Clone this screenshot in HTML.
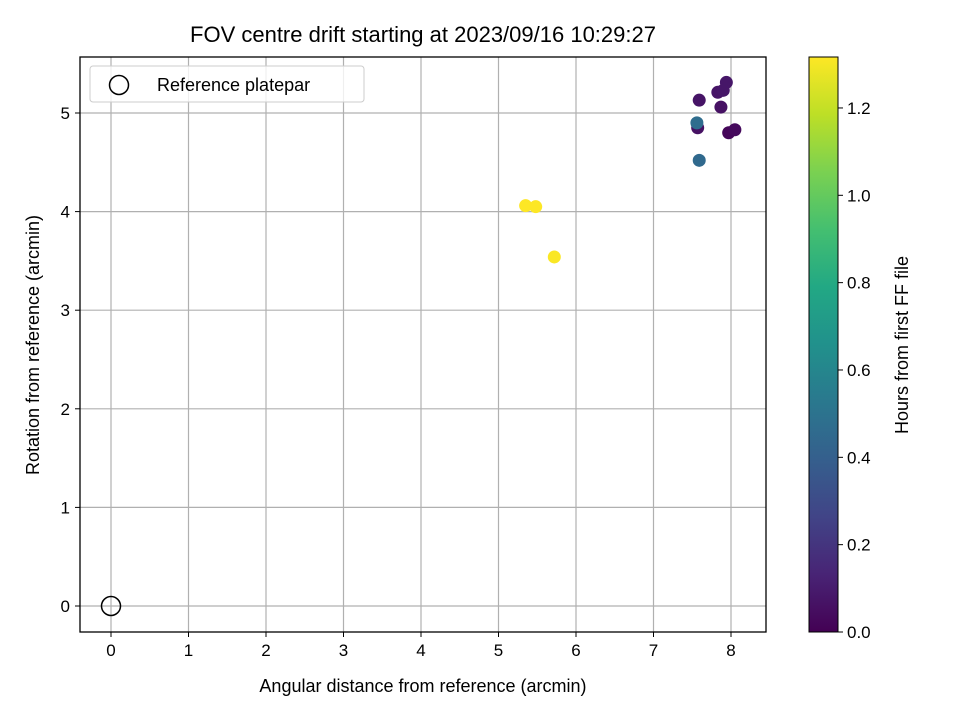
<!DOCTYPE html>
<html><head><meta charset="utf-8"><style>
body{margin:0;background:#fff}
svg text{font-family:"Liberation Sans","DejaVu Sans",sans-serif;fill:#000}
</style></head><body>
<svg id="chart" width="960" height="720" xmlns="http://www.w3.org/2000/svg">
<defs>
<linearGradient id="vir" x1="0" y1="1" x2="0" y2="0">
<stop offset="0" stop-color="#440154"/><stop offset="0.1" stop-color="#482475"/><stop offset="0.2" stop-color="#414487"/><stop offset="0.3" stop-color="#355f8d"/><stop offset="0.4" stop-color="#2a788e"/><stop offset="0.5" stop-color="#21918c"/><stop offset="0.6" stop-color="#22a884"/><stop offset="0.7" stop-color="#44bf70"/><stop offset="0.8" stop-color="#7ad151"/><stop offset="0.9" stop-color="#bddf26"/><stop offset="1" stop-color="#fde725"/>
</linearGradient>
</defs>
<text x="423" y="42" font-size="22" text-anchor="middle">FOV centre drift starting at 2023/09/16 10:29:27</text>
<g id="grid"></g>
<g id="ticks"></g>
<g id="points"></g>
<rect x="80" y="57" width="686" height="575" fill="none" stroke="#000" stroke-width="1.3"/>
<text x="423" y="692" font-size="18" text-anchor="middle">Angular distance from reference (arcmin)</text>
<text transform="translate(39,345) rotate(-90)" font-size="18" text-anchor="middle">Rotation from reference (arcmin)</text>
<g>
<rect x="90" y="66" width="274" height="36" rx="3" fill="#fff" fill-opacity="0.8" stroke="#ccc"/>
<circle cx="119" cy="85" r="9.5" fill="none" stroke="#000" stroke-width="1.5"/>
<text x="157" y="91" font-size="18">Reference platepar</text>
</g>
<rect x="809" y="57" width="29" height="575" fill="url(#vir)" stroke="#000" stroke-width="1"/>
<g id="cbticks"></g>
<text transform="translate(908,345) rotate(-90)" font-size="18" text-anchor="middle">Hours from first FF file</text>
</svg>
<script>
const xTicks=[0,1,2,3,4,5,6,7,8];
const yTicks=[0,1,2,3,4,5];
const cbTicks=[0.0,0.2,0.4,0.6,0.8,1.0,1.2];
const ptX=[7.94,7.83,7.90,7.59,7.87,7.57,7.97,8.05,7.56,7.59,5.35,5.48,5.72];
const ptY=[5.31,5.21,5.23,5.13,5.06,4.85,4.80,4.83,4.90,4.52,4.06,4.05,3.54];
const ptH=[0.08,0.07,0.08,0.07,0.06,0.06,0.02,0.03,0.47,0.45,1.32,1.32,1.31];
const refX=[0],refY=[0];
const X=v=>111+v*77.5, Y=v=>606-v*98.6, CB=v=>632-v*436.7;
const NS="http://www.w3.org/2000/svg";
function mk(t,a,p){const e=document.createElementNS(NS,t);for(const k in a)e.setAttribute(k,a[k]);p.appendChild(e);return e;}
const vir=["#440154","#482475","#414487","#355f8d","#2a788e","#21918c","#22a884","#44bf70","#7ad151","#bddf26","#fde725"];
function col(h){let t=Math.max(0,Math.min(1,h/1.317))*10;const i=Math.min(9,Math.floor(t)),f=t-i;
const a=vir[i],b=vir[i+1];const c=[1,3,5].map(k=>Math.round(parseInt(a.substr(k,2),16)*(1-f)+parseInt(b.substr(k,2),16)*f));return `rgb(${c})`;}
const g=document.getElementById('grid'),tk=document.getElementById('ticks'),pts=document.getElementById('points'),cb=document.getElementById('cbticks');
xTicks.forEach(v=>{
const l=mk('line',{x1:X(v),x2:X(v),y1:57,y2:632,stroke:'#b0b0b0','stroke-width':1.2},g);


mk('line',{x1:X(v),x2:X(v),y1:632,y2:637,stroke:'#000'},tk);
const t=mk('text',{x:X(v),y:656,'font-size':17,'text-anchor':'middle'},tk);t.textContent=v;


});
yTicks.forEach(v=>{
const l=mk('line',{x1:80,x2:766,y1:Y(v),y2:Y(v),stroke:'#b0b0b0','stroke-width':1.2},g);


mk('line',{x1:75,x2:80,y1:Y(v),y2:Y(v),stroke:'#000'},tk);
const t=mk('text',{x:70,y:Y(v)+6,'font-size':17,'text-anchor':'end'},tk);t.textContent=v;


});
cbTicks.forEach(v=>{
mk('line',{x1:838,x2:843,y1:CB(v),y2:CB(v),stroke:'#000'},cb);
const t=mk('text',{x:847,y:CB(v)+6,'font-size':17},cb);t.textContent=v.toFixed(1);


});
ptX.forEach((x,i)=>{
const c=mk('circle',{cx:X(x),cy:Y(ptY[i]),r:6.5,fill:col(ptH[i])},pts);


});
refX.forEach((x,i)=>{
const c=mk('circle',{cx:X(x),cy:Y(refY[i]),r:9.5,fill:'none',stroke:'#000','stroke-width':1.5},pts);


});
</script>
</body></html>
